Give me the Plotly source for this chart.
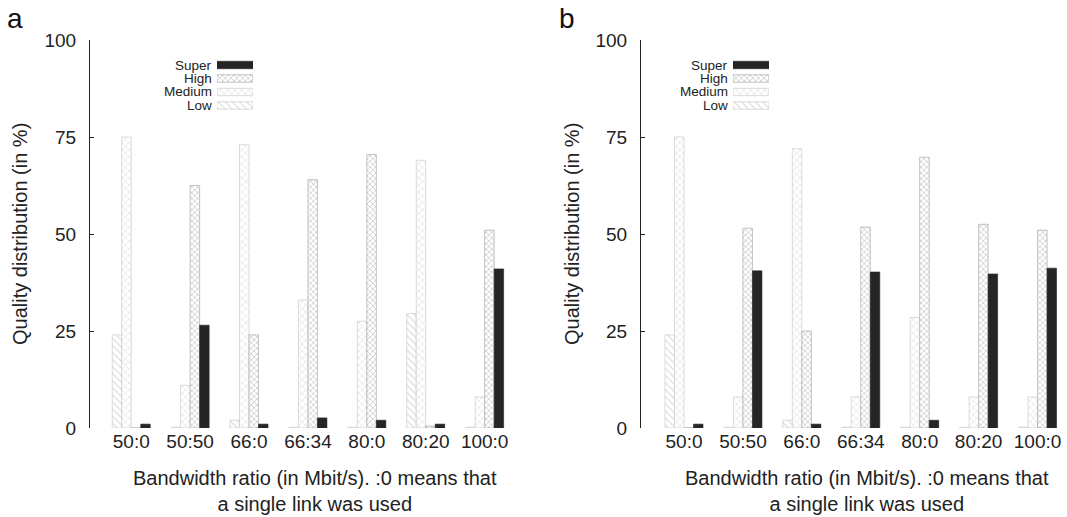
import plotly.graph_objects as go

W, H = 1067, 517

categories = ["50:0", "50:50", "66:0", "66:34", "80:0", "80:20", "100:0"]
series_names = ["Low", "Medium", "High", "Super"]

a_low = [24, 0.2, 2, 0.2, 0.2, 29.5, 0.2]
a_medium = [75, 11, 73, 33, 27.5, 69, 8]
a_high = [0, 62.5, 24, 64, 70.5, 0.5, 51]
a_super = [1, 26.5, 1, 2.6, 2, 1, 41]

b_low = [24, 0.2, 2, 0.2, 0.2, 0.2, 0.2]
b_medium = [75, 8, 72, 8, 28.5, 8, 8]
b_high = [0, 51.5, 25, 51.8, 69.8, 52.5, 51]
b_super = [1, 40.5, 1, 40.2, 2, 39.7, 41.2]

y_ticks = [0, 25, 50, 75, 100]

FONT = "Liberation Sans, Arial, sans-serif"
TXT = "#222222"

styles = {
    "Low": dict(color="white", line=dict(color="#cccccc", width=0.7),
                pattern=dict(shape="\\", fgcolor="#a8a8a8", bgcolor="white", size=5, solidity=0.2)),
    "Medium": dict(color="white", line=dict(color="#cccccc", width=0.7),
                   pattern=dict(shape="x", fgcolor="#a8a8a8", bgcolor="white", size=5, solidity=0.18)),
    "High": dict(color="white", line=dict(color="#aaaaaa", width=0.7),
                 pattern=dict(shape="x", fgcolor="#888888", bgcolor="white", size=4, solidity=0.32)),
    "Super": dict(color="#252525", line=dict(color="#252525", width=0.6)),
}

def px_x(p):
    return p / W

def px_y(p):
    return 1 - p / H

fig = go.Figure()

panels = [
    ("x", "y", [a_low, a_medium, a_high, a_super]),
    ("x2", "y2", [b_low, b_medium, b_high, b_super]),
]
for xa, ya, vals in panels:
    for name, v in zip(series_names, vals):
        fig.add_trace(go.Bar(x=categories, y=v, name=name, xaxis=xa, yaxis=ya,
                             marker=styles[name], showlegend=False))

# manual legends (swatch to the right of the text)
legend_specs = [
    ("x3", "y3", 217, 253, 214),
    ("x4", "y4", 733, 769, 730),
]
row_centers = [65, 78.5, 92, 105.5]  # Super, High, Medium, Low
legend_order = ["Super", "High", "Medium", "Low"]
for xa, ya, x0, x1, tx in legend_specs:
    for i, name in enumerate(legend_order):
        fig.add_trace(go.Bar(x=[1], y=[3 - i], base=0, orientation="h", width=0.55,
                             offsetgroup="leg", xaxis=xa, yaxis=ya,
                             marker=styles[name], showlegend=False, hoverinfo="skip"))
        fig.add_annotation(text=name, x=px_x(tx), y=px_y(row_centers[i]), xref="paper", yref="paper",
                           xanchor="right", yanchor="middle", showarrow=False,
                           font=dict(family=FONT, size=13.5, color=TXT))

ydom = [px_y(428), px_y(40)]
axis_common = dict(showgrid=False, zeroline=False, automargin=False)
yaxis_common = dict(range=[0, 100], tickvals=y_ticks, ticks="inside", ticklen=4, tickwidth=1,
                    tickcolor=TXT, showline=True, linecolor=TXT, linewidth=1, mirror=False,
                    ticklabelstandoff=9,
                    tickfont=dict(family=FONT, size=19, color=TXT), domain=ydom, **axis_common)
xaxis_common = dict(type="category", showline=False, ticks="", tickfont=dict(family=FONT, size=19, color=TXT),
                    **axis_common)

leg_ydom = [px_y(112.25), px_y(58.25)]
hidden = dict(visible=False, fixedrange=True, showgrid=False, zeroline=False)

fig.update_layout(
    width=W, height=H,
    margin=dict(l=0, r=0, t=0, b=0),
    paper_bgcolor="white", plot_bgcolor="white",
    barmode="group", bargap=0.355, bargroupgap=0,
    showlegend=False,
    font=dict(family=FONT, color=TXT),
    xaxis=dict(domain=[px_x(90), px_x(530)], range=[-0.7, 6.77], anchor="y", **xaxis_common),
    yaxis=dict(anchor="x", **yaxis_common),
    xaxis2=dict(domain=[px_x(641), 1.0], range=[-0.73, 6.5], anchor="y2", **xaxis_common),
    yaxis2=dict(anchor="x2", **yaxis_common),
    xaxis3=dict(domain=[px_x(217), px_x(253)], range=[0, 1], anchor="y3", **hidden),
    yaxis3=dict(domain=leg_ydom, range=[-0.5, 3.5], anchor="x3", **hidden),
    xaxis4=dict(domain=[px_x(733), px_x(769)], range=[0, 1], anchor="y4", **hidden),
    yaxis4=dict(domain=leg_ydom, range=[-0.5, 3.5], anchor="x4", **hidden),
)

# axis titles and panel labels
for cx, ytx, lab, lx in [(315, 20, "a", 15), (867, 572, "b", 567)]:
    fig.add_annotation(text="Bandwidth ratio (in Mbit/s). :0 means that<br>a single link was used",
                       x=px_x(cx), y=px_y(491), xref="paper", yref="paper", xanchor="center",
                       yanchor="middle", showarrow=False, align="center",
                       font=dict(family=FONT, size=20, color=TXT))
    fig.add_annotation(text="Quality distribution (in %)", x=px_x(ytx), y=px_y(234), xref="paper",
                       yref="paper", xanchor="center", yanchor="middle", textangle=-90, showarrow=False,
                       font=dict(family=FONT, size=20, color=TXT))
    fig.add_annotation(text=lab, x=px_x(lx), y=px_y(18), xref="paper", yref="paper", xanchor="center",
                       yanchor="middle", showarrow=False, font=dict(family=FONT, size=28, color="#111111"))

fig.write_html("out.html")
